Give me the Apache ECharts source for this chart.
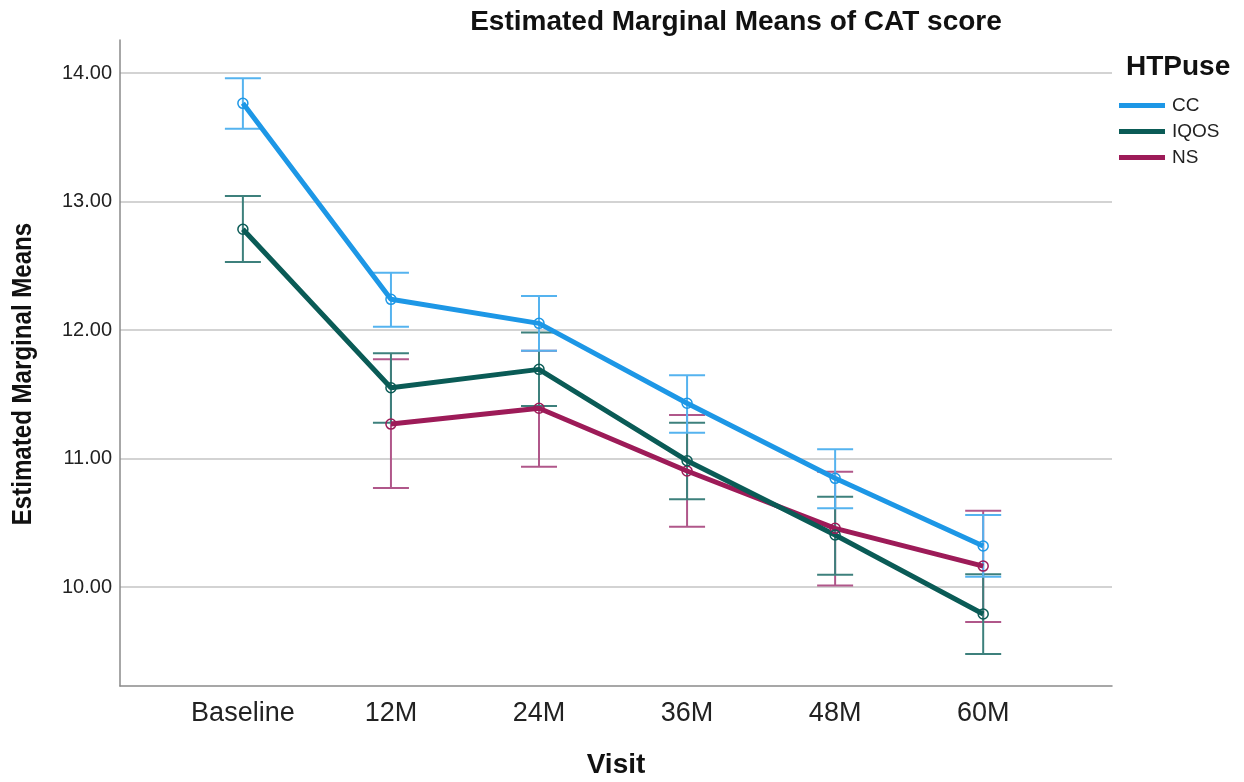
<!DOCTYPE html>
<html>
<head>
<meta charset="utf-8">
<script src="https://cdn.jsdelivr.net/npm/echarts@6/dist/echarts.min.js"></script>
<style>
  html, body { margin: 0; padding: 0; background: #fff; }
  #chart { width: 1244px; height: 782px; }
</style>
</head>
<body>
<div id="chart"></div>
<script>
// Visits along the x axis
const visits = ['Baseline', '12M', '24M', '36M', '48M', '60M'];
const groups = ['CC', 'IQOS', 'NS'];

// Estimated marginal means per group (null = no estimate at that visit)
const ccMean   = [13.764, 12.239, 12.052, 11.430, 10.846, 10.319];
const iqosMean = [12.784, 11.551, 11.694, 10.983, 10.405, 9.790];
const nsMean   = [null,   11.268, 11.391, 10.903, 10.457, 10.163];

// 95% CI lower / upper bounds
const ccLow    = [13.567, 12.026, 11.839, 11.201, 10.613, 10.080];
const ccHigh   = [13.960, 12.446, 12.265, 11.648, 11.072, 10.560];
const iqosLow  = [12.529, 11.279, 11.409, 10.683, 10.095, 9.479];
const iqosHigh = [13.043, 11.819, 11.980, 11.279, 10.703, 10.100];
const nsLow    = [null,   10.770, 10.936, 10.469, 10.013, 9.728];
const nsHigh   = [null,   11.772, 11.839, 11.339, 10.897, 10.594];

const yTicks = [10, 11, 12, 13, 14];

const FONT = 'Liberation Sans, Arial, sans-serif';
const lineColors = { CC: '#1d97e6', IQOS: '#0a5b56', NS: '#9d1b58' };
const barColors  = { CC: '#55b3ef', IQOS: '#3d807c', NS: '#b0578a' };

function toPoints(arr) {
  return arr.map((v, i) => (v == null ? null : [i, v])).filter(Boolean);
}
function toBars(lo, hi) {
  return lo.map((v, i) => (v == null ? null : [i, v, hi[i]])).filter(Boolean);
}

// Vertical confidence interval with horizontal caps
function errorBarSeries(name, lo, hi) {
  return {
    type: 'custom',
    name: name + ' CI',
    z: 2,
    data: toBars(lo, hi),
    encode: { x: 0, y: [1, 2] },
    renderItem: function (params, api) {
      const x = api.value(0);
      const pLo = api.coord([x, api.value(1)]);
      const pHi = api.coord([x, api.value(2)]);
      const half = 18;
      const style = { stroke: barColors[name], lineWidth: 2 };
      return {
        type: 'group',
        children: [
          { type: 'line', shape: { x1: pLo[0], y1: pLo[1], x2: pHi[0], y2: pHi[1] }, style: style },
          { type: 'line', shape: { x1: pLo[0] - half, y1: pLo[1], x2: pLo[0] + half, y2: pLo[1] }, style: style },
          { type: 'line', shape: { x1: pHi[0] - half, y1: pHi[1], x2: pHi[0] + half, y2: pHi[1] }, style: style }
        ]
      };
    }
  };
}

function meanSeries(name, arr) {
  return {
    type: 'line',
    name: name,
    z: 3,
    data: toPoints(arr),
    symbol: 'circle',
    symbolSize: 10,
    showAllSymbol: true,
    lineStyle: { color: lineColors[name], width: 5 },
    itemStyle: { color: 'rgba(255,255,255,0)', borderColor: lineColors[name], borderWidth: 1.5 },
    emphasis: { disabled: true }
  };
}

const chart = echarts.init(document.getElementById('chart'), null, { renderer: 'canvas' });

chart.setOption({
  animation: false,
  backgroundColor: '#ffffff',
  textStyle: { fontFamily: FONT },
  title: [
    {
      text: 'Estimated Marginal Means of CAT score',
      left: 731, top: 3, textAlign: 'center',
      textStyle: { fontSize: 28, fontWeight: 'bold', color: '#111', fontFamily: FONT }
    },
    {
      text: 'HTPuse',
      left: 1121, top: 48,
      textStyle: { fontSize: 28, fontWeight: 'bold', color: '#111', fontFamily: FONT }
    }
  ],
  legend: {
    data: groups.map(g => ({ name: g, itemStyle: { color: lineColors[g], borderWidth: 0 } })),
    orient: 'vertical',
    left: 1114, top: 91,
    icon: 'rect',
    itemWidth: 46, itemHeight: 5,
    itemGap: 7,
    selectedMode: false,
    textStyle: { fontSize: 19, color: '#222', padding: [0, 0, 0, 2], fontFamily: FONT }
  },
  grid: { left: 120, right: 132, top: 40, bottom: 96, outerBoundsMode: 'none' },
  graphic: [
    {
      // condensed, rotated y-axis title
      type: 'text',
      x: 23, y: 374,
      rotation: Math.PI / 2,
      scaleX: 0.86,
      style: {
        text: 'Estimated Marginal Means',
        font: 'bold 28px ' + FONT,
        fill: '#111',
        align: 'center',
        verticalAlign: 'middle'
      }
    }
  ],
  xAxis: {
    type: 'value',
    min: -0.83, max: 5.87,
    name: 'Visit',
    nameLocation: 'middle',
    nameGap: 65,
    nameTextStyle: { fontSize: 28, fontWeight: 'bold', color: '#111', fontFamily: FONT },
    axisLine: { show: true, onZero: false, lineStyle: { color: '#8a8a8a', width: 1.5 } },
    axisTick: { show: false, customValues: [0, 1, 2, 3, 4, 5] },
    axisLabel: {
      customValues: [0, 1, 2, 3, 4, 5],
      formatter: v => visits[Math.round(v)],
      fontSize: 27, color: '#222', margin: 14,
      fontFamily: FONT
    },
    splitLine: { show: false }
  },
  yAxis: {
    type: 'value',
    min: 9.23, max: 14.257,
    axisLine: { show: true, onZero: false, lineStyle: { color: '#8a8a8a', width: 1.5 } },
    axisTick: { show: false, customValues: yTicks },
    axisLabel: {
      customValues: yTicks,
      formatter: v => v.toFixed(2),
      fontSize: 20, color: '#222', margin: 8,
      fontFamily: FONT
    },
    splitLine: { show: true, lineStyle: { color: '#c4c4c4', width: 1.5 } }
  },
  series: [
    errorBarSeries('NS', nsLow, nsHigh),
    errorBarSeries('IQOS', iqosLow, iqosHigh),
    errorBarSeries('CC', ccLow, ccHigh),
    meanSeries('NS', nsMean),
    meanSeries('IQOS', iqosMean),
    meanSeries('CC', ccMean)
  ]
});
</script>
</body>
</html>
